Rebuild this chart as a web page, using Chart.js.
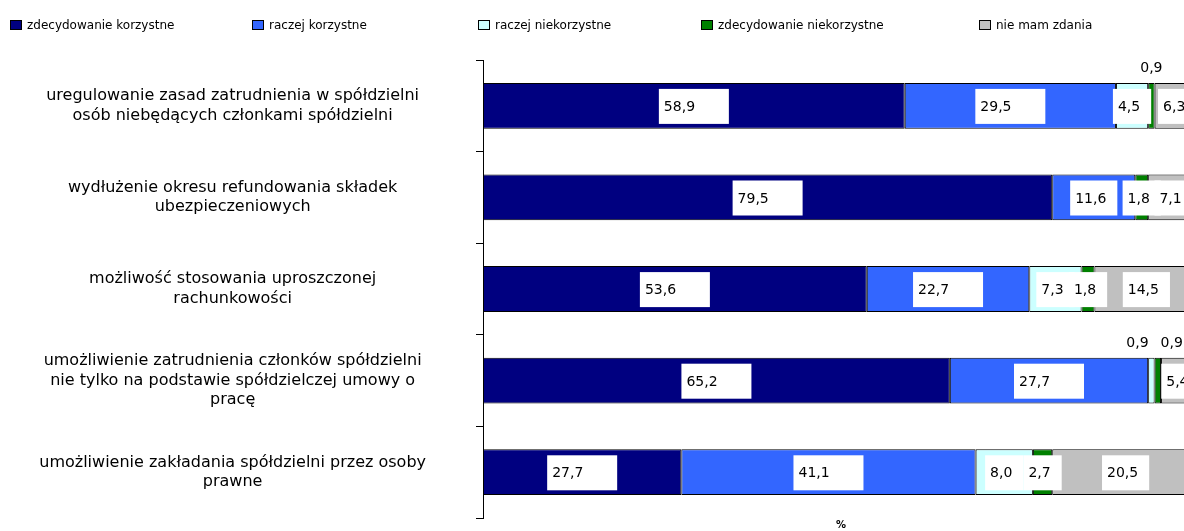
<!DOCTYPE html>
<html>
<head>
<meta charset="utf-8">
<script src="https://cdn.jsdelivr.net/npm/chart.js@4/dist/chart.umd.min.js"></script>
<style>
html,body{margin:0;padding:0;overflow:hidden;background:#fff;width:1184px;height:531px;}
#wrap{position:absolute;left:0;top:0;width:1212px;height:531px;}
#legend{position:absolute;left:0;top:0;width:1184px;height:40px;font-family:"DejaVu Sans",sans-serif;font-size:12px;color:#000;}
.li{position:absolute;top:18px;white-space:nowrap;line-height:15px;}
.sw{display:inline-block;width:10px;height:8px;border:1px solid #000;vertical-align:-1px;margin-right:5px;}
</style>
</head>
<body>
<div id="wrap"><canvas id="c" width="1212" height="531"></canvas></div>
<div id="legend"></div>
<script>
const categories = [
  ["uregulowanie zasad zatrudnienia w spółdzielni", "osób niebędących członkami spółdzielni"],
  ["wydłużenie okresu refundowania składek", "ubezpieczeniowych"],
  ["możliwość stosowania uproszczonej", "rachunkowości"],
  ["umożliwienie zatrudnienia członków spółdzielni", "nie tylko na podstawie spółdzielczej umowy o", "pracę"],
  ["umożliwienie zakładania spółdzielni przez osoby", "prawne"]
];
const seriesNames = ["zdecydowanie korzystne", "raczej korzystne", "raczej niekorzystne", "zdecydowanie niekorzystne", "nie mam zdania"];
const zdecydowanieKorzystne = [58.9, 79.5, 53.6, 65.2, 27.7];
const raczejKorzystne = [29.5, 11.6, 22.7, 27.7, 41.1];
const raczejNiekorzystne = [4.5, 0, 7.3, 0.9, 8.0];
const zdecydowanieNiekorzystne = [0.9, 1.8, 1.8, 0.9, 2.7];
const nieMamZdania = [6.3, 7.1, 14.5, 5.4, 20.5];
const seriesColors = ["#000080", "#3366FF", "#CCFFFF", "#008000", "#C0C0C0"];
const legendX = [10, 252, 478, 701, 979];
const axisTitle = "%";

const seriesData = [zdecydowanieKorzystne, raczejKorzystne, raczejNiekorzystne, zdecydowanieNiekorzystne, nieMamZdania];

// HTML legend
const lg = document.getElementById('legend');
seriesNames.forEach((n, i) => {
  const d = document.createElement('div');
  d.className = 'li';
  d.style.left = legendX[i] + 'px';
  d.innerHTML = '<span class="sw" style="background:' + seriesColors[i] + '"></span>' + n;
  lg.appendChild(d);
});

const fmt = v => v.toFixed(1).replace('.', ',');

const labelPlugin = {
  id: 'segLabels',
  afterDatasetsDraw(chart) {
    const ctx = chart.ctx;
    ctx.save();
    ctx.font = '14px "DejaVu Sans"';
    ctx.textBaseline = 'alphabetic';
    const above = {};
    chart.data.datasets.forEach((ds, di) => {
      const meta = chart.getDatasetMeta(di);
      meta.data.forEach((el, j) => {
        const v = ds.data[j];
        if (!v || v <= 0) return;
        const left = Math.min(el.base, el.x), right = Math.max(el.base, el.x);
        const segW = right - left;
        const cx = (left + right) / 2;
        const txt = fmt(v);
        const tw = ctx.measureText(txt).width;
        const top = el.y - el.height / 2;
        if (v < 1.5) {
          (above[j] = above[j] || []).push({cx, txt, tw, top});
          return;
        }
        const bw = segW >= 150 ? 70 : tw + 16;
        const bx = cx - bw / 2;
        const by = top + 6;
        ctx.fillStyle = '#FFFFFF';
        ctx.fillRect(bx, by, bw, 35);
        ctx.fillStyle = '#000000';
        ctx.textAlign = 'left';
        ctx.fillText(txt, bx + 5, by + 22);
      });
    });
    Object.keys(above).forEach(k => {
      const arr = above[k];
      for (let i = 1; i < arr.length; i++) {
        const a = arr[i - 1], b = arr[i];
        const need = (a.tw + b.tw) / 2 + 12;
        if (b.cx - a.cx < need) {
          const mid = (a.cx + b.cx) / 2;
          a.cx = mid - need / 2;
          b.cx = mid + need / 2;
        }
      }
      arr.forEach(o => {
        ctx.fillStyle = '#000000';
        ctx.textAlign = 'center';
        ctx.fillText(o.txt, o.cx, o.top - 11);
      });
    });
    ctx.restore();
  }
};

new Chart(document.getElementById('c'), {
  type: 'bar',
  data: {
    labels: categories,
    datasets: seriesNames.map((n, i) => ({
      label: n,
      data: seriesData[i],
      backgroundColor: seriesColors[i],
      borderColor: '#000000',
      borderWidth: 1,
      borderSkipped: false,
      barPercentage: 0.5,
      categoryPercentage: 1.0
    }))
  },
  options: {
    indexAxis: 'y',
    responsive: false,
    animation: false,
    layout: { padding: { top: 60, right: 13, bottom: 0, left: 0 } },
    plugins: { legend: { display: false }, tooltip: { enabled: false } },
    scales: {
      x: {
        stacked: true,
        min: 0,
        max: 100,
        afterFit: s => { s.height = 13; s.paddingLeft = 0; s.paddingRight = 0; },
        grid: { display: false },
        border: { display: false },
        ticks: { display: false },
        title: { display: true, text: axisTitle, color: '#000', font: { family: '"DejaVu Sans"', size: 10, weight: 'bold' }, padding: { top: 1, bottom: 0 } }
      },
      y: {
        stacked: true,
        afterFit: s => { s.width = 483; s.paddingTop = 0; s.paddingBottom = 0; },
        grid: { display: true, drawOnChartArea: false, drawTicks: true, tickLength: 7, color: '#000', offset: true },
        border: { display: true, color: '#000', width: 1 },
        ticks: {
          crossAlign: 'center',
          padding: 50,
          color: '#000',
          font: { family: '"DejaVu Sans"', size: 16, lineHeight: 1.22 }
        }
      }
    }
  },
  plugins: [labelPlugin]
});
</script>
</body>
</html>
